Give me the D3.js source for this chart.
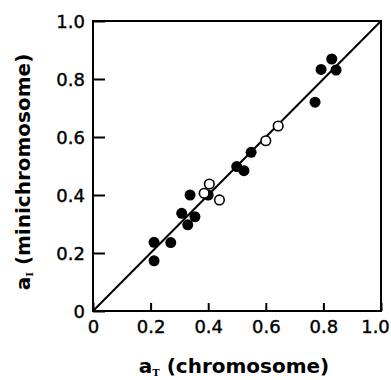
<!DOCTYPE html>
<html>
<head>
<meta charset="utf-8">
<script src="https://cdn.jsdelivr.net/npm/d3@7"></script>
<style>
  body { margin: 0; background: #fff; }
  svg text { font-family: "DejaVu Sans", sans-serif; fill: #000; }
</style>
</head>
<body>
<div id="chart"></div>
<script>
// chromosome (x) vs minichromosome (y)
var filledX = [0.212, 0.212, 0.270, 0.308, 0.329, 0.354, 0.337, 0.400, 0.499, 0.524, 0.549, 0.771, 0.792, 0.829, 0.844];
var filledY = [0.237, 0.173, 0.236, 0.337, 0.297, 0.325, 0.400, 0.400, 0.498, 0.484, 0.547, 0.720, 0.833, 0.869, 0.831];
var openX = [0.386, 0.404, 0.439, 0.600, 0.643];
var openY = [0.406, 0.438, 0.383, 0.587, 0.638];
var tickValues = [0, 0.2, 0.4, 0.6, 0.8, 1.0];
var tickLabels = ["0", "0.2", "0.4", "0.6", "0.8", "1.0"];

var W = 391, H = 380;
var mLeft = 93, mRight = 381, mTop = 21, mBottom = 311;

var svg = d3.select("#chart").append("svg")
    .attr("width", W)
    .attr("height", H);

var x = d3.scaleLinear().domain([0, 1]).range([mLeft, mRight]);
var y = d3.scaleLinear().domain([0, 1]).range([mBottom, mTop]);

// frame
svg.append("rect")
    .attr("x", x(0)).attr("y", y(1))
    .attr("width", x(1) - x(0)).attr("height", y(0) - y(1))
    .attr("fill", "none").attr("stroke", "#000").attr("stroke-width", 2);

// inward ticks
var xAxis = d3.axisBottom(x).tickValues(tickValues).tickSize(-8).tickFormat(function(d, i) { return tickLabels[i]; });
var yAxis = d3.axisLeft(y).tickValues(tickValues).tickSize(-12).tickFormat(function(d, i) { return tickLabels[i]; });

var gx = svg.append("g").attr("transform", "translate(0," + mBottom + ")").call(xAxis);
var gy = svg.append("g").attr("transform", "translate(" + mLeft + ",0)").call(yAxis);
[gx, gy].forEach(function(g) {
  g.select(".domain").remove();
  g.selectAll(".tick line").attr("stroke", "#000").attr("stroke-width", 2);
  g.selectAll(".tick text").attr("font-size", 18).attr("font-family", "DejaVu Sans")
    .attr("fill", "#000").attr("stroke", "#000").attr("stroke-width", 0.4);
});
gx.selectAll(".tick text").attr("y", 9).attr("dy", "0.71em")
    .attr("dx", function(d) { return d === 1 ? -6 : 0; });
gy.selectAll(".tick text").attr("x", -8).attr("dy", "0.36em");

// identity line
svg.append("line")
    .attr("x1", x(0)).attr("y1", y(0))
    .attr("x2", x(1)).attr("y2", y(1))
    .attr("stroke", "#000").attr("stroke-width", 2);

// points
svg.append("g").selectAll("circle").data(d3.range(filledX.length)).join("circle")
    .attr("cx", function(i) { return x(filledX[i]); })
    .attr("cy", function(i) { return y(filledY[i]); })
    .attr("r", 5.5)
    .attr("fill", "#000");

svg.append("g").selectAll("circle").data(d3.range(openX.length)).join("circle")
    .attr("cx", function(i) { return x(openX[i]); })
    .attr("cy", function(i) { return y(openY[i]); })
    .attr("r", 4.8)
    .attr("fill", "#fff")
    .attr("stroke", "#000")
    .attr("stroke-width", 1.6);

// axis titles
var xt = svg.append("text")
    .attr("x", 234).attr("y", 373)
    .attr("text-anchor", "middle")
    .attr("font-size", 20).attr("font-weight", "bold");
xt.append("tspan").text("a");
xt.append("tspan").attr("font-size", 10).attr("font-family", "DejaVu Serif").attr("dy", 3).text("T");
xt.append("tspan").attr("dy", -3).text(" (chromosome)");

var yt = svg.append("text")
    .attr("transform", "translate(30,172) rotate(-90)")
    .attr("text-anchor", "middle")
    .attr("font-size", 20).attr("font-weight", "bold");
yt.append("tspan").text("a");
yt.append("tspan").attr("font-size", 10).attr("font-family", "DejaVu Serif").attr("dy", 3).text("I");
yt.append("tspan").attr("dy", -3).text(" (minichromosome)");
</script>
</body>
</html>
